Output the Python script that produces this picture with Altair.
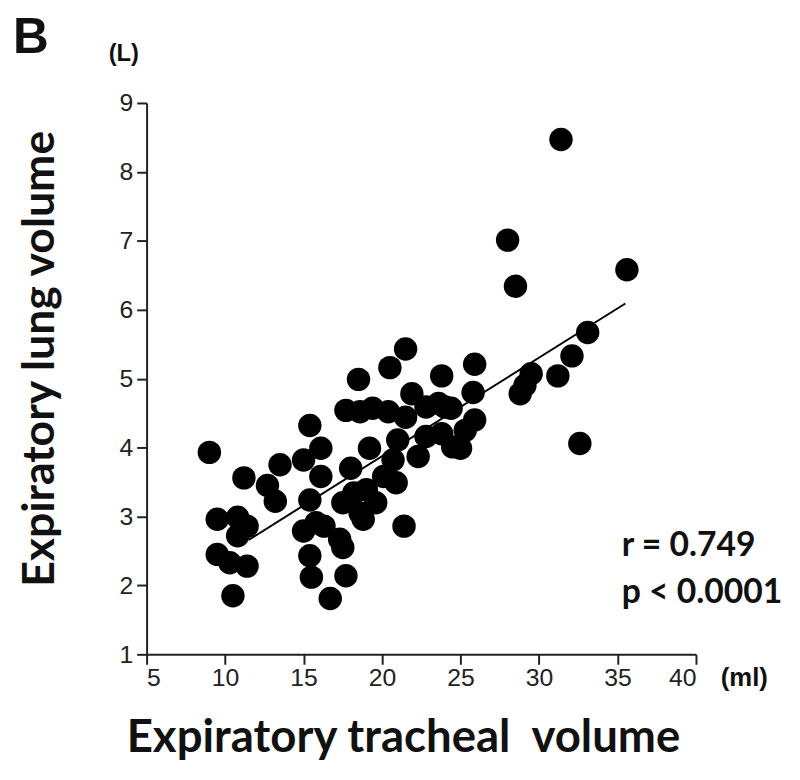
import altair as alt
import pandas as pd

# Expiratory tracheal volume (ml)
tracheal = [9.0, 11.2, 13.5, 12.7, 13.2, 15.4, 16.1, 15.0, 16.1, 15.4,
            9.5, 10.8, 11.4, 10.8, 9.5, 10.3, 11.4, 10.5, 15.0, 15.8,
            15.4, 15.5, 16.7,
            21.5, 20.5, 18.5, 23.8, 25.9, 25.8, 21.9, 17.7, 18.6, 19.4,
            20.4, 21.5, 22.8, 23.6, 24.4, 25.9, 25.3, 25.0, 23.8, 22.3,
            22.8, 21.0, 20.7, 19.2, 18.0, 20.9, 20.1, 18.2, 19.0, 17.5,
            18.6, 19.6, 18.8, 16.3, 17.3, 21.4, 17.5, 17.7, 24.0, 24.5,
            31.4, 28.0, 28.5, 35.6, 33.1, 32.1, 31.2, 29.5, 29.1, 28.8, 32.6]
# Expiratory lung volume (L)
lung = [3.93, 3.56, 3.75, 3.45, 3.22, 4.32, 3.99, 3.82, 3.58, 3.24,
        2.96, 2.99, 2.86, 2.72, 2.45, 2.33, 2.28, 1.85, 2.79, 2.91,
        2.43, 2.12, 1.81,
        5.43, 5.16, 4.99, 5.04, 5.21, 4.80, 4.78, 4.54, 4.52, 4.57,
        4.52, 4.44, 4.59, 4.64, 4.57, 4.40, 4.25, 3.99, 4.20, 3.87,
        4.16, 4.11, 3.82, 3.99, 3.70, 3.49, 3.58, 3.34, 3.39, 3.20,
        3.05, 3.20, 2.96, 2.86, 2.67, 2.86, 2.55, 2.14, 4.59, 4.01,
        8.47, 7.01, 6.34, 6.58, 5.67, 5.33, 5.04, 5.07, 4.90, 4.78, 4.06]

# Fitted line
fit_x = [11.5, 35.5]
fit_y = [2.66, 6.09]

x_ticks = [5, 10, 15, 20, 25, 30, 35, 40]
y_ticks = [1, 2, 3, 4, 5, 6, 7, 8, 9]

pts = pd.DataFrame({"x": tracheal, "y": lung})
fit = pd.DataFrame({"x": fit_x, "y": fit_y})

TITLE_FONT = "Lato"
LABEL_FONT = "Liberation Sans"

xscale = alt.Scale(domain=[5, 40], nice=False, zero=False)
yscale = alt.Scale(domain=[1, 9], nice=False, zero=False)

points = alt.Chart(pts).mark_circle(size=560, color="black", opacity=1).encode(
    x=alt.X("x:Q", scale=xscale, axis=alt.Axis(
        values=x_ticks, format="d", title="Expiratory tracheal\u00a0 volume",
        titleFont=TITLE_FONT, titleFontSize=46, titleFontWeight="bold",
        titleColor="#111", titleX=259, titleY=98,
        titleAlign="center", titleBaseline="alphabetic",
        labelFont=LABEL_FONT, labelFontSize=25, labelColor="#222",
        labelPadding=1, tickSize=10)),
    y=alt.Y("y:Q", scale=yscale, axis=alt.Axis(
        values=y_ticks, format="d", title="Expiratory lung volume",
        titleFont=TITLE_FONT, titleFontSize=45, titleFontWeight="bold",
        titleColor="#111", titleX=-94, titleY=258, titleAngle=-90,
        titleAlign="center", titleBaseline="alphabetic",
        labelFont=LABEL_FONT, labelFontSize=25, labelColor="#222",
        labelPadding=4, tickSize=10)),
)

line = alt.Chart(fit).mark_line(color="black", strokeWidth=2).encode(
    x=alt.X("x:Q", scale=xscale), y=alt.Y("y:Q", scale=yscale)
)

def label(txt, px, py, size, font, align="left", baseline="middle"):
    return alt.Chart(pd.DataFrame({"t": [txt]})).mark_text(
        font=font, fontSize=size, fontWeight="bold", color="#111",
        align=align, baseline=baseline
    ).encode(text="t:N", x=alt.value(px), y=alt.value(py))

annots = [
    label("B", -117, -65, 50, "Liberation Sans", align="center"),
    label("(L)", -23, -49, 24, "Liberation Sans", align="center"),
    label("(ml)", 580, 581, 26, "Liberation Sans"),
    label("r = 0.749", 480, 458, 34, TITLE_FONT, baseline="alphabetic"),
    label("p < 0.0001", 480, 505, 34, TITLE_FONT, baseline="alphabetic"),
]

chart = alt.layer(line, points, *annots).properties(
    width=555, height=557,
    autosize=alt.AutoSizeParams(type="none"),
    padding={"left": 140, "top": 92, "right": 97, "bottom": 123},
    background="white",
).configure_view(stroke=None).configure_axis(
    grid=False, domainColor="#222", domainWidth=2, tickColor="#222",
    tickWidth=2,
)

chart.save("out.html", embed_options={"renderer": "svg", "actions": False})
